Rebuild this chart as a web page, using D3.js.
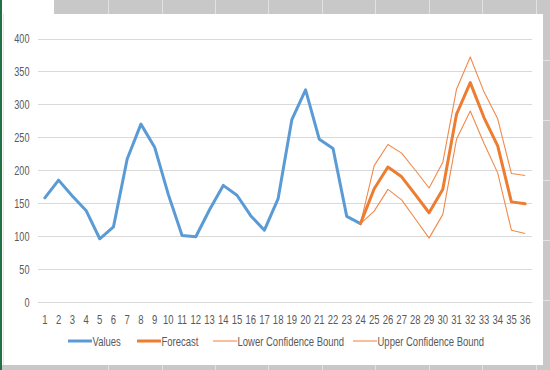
<!DOCTYPE html>
<html><head><meta charset="utf-8">
<script src="https://cdn.jsdelivr.net/npm/d3@7"></script>
<style>html,body{margin:0;padding:0;background:#fff;}svg{display:block;}</style>
</head><body>
<svg id="c" width="550" height="370"></svg>
<script>
const categories = d3.range(1, 37);
const valuesX = d3.range(1, 25);
const values = [158,185,161,139,96,114,217,270,235,163,101,99,140,177,162,131,109,157,277,322,247,233,130,119];
const forecastX = d3.range(24, 37);
const forecast = [119,172,205,190,163,135.5,171,285,333,280,237,152,149];
const lowerBound = [119,138,171,155,126,97,133,247,290,241,196,109,104];
const upperBound = [119,207,239,226,200,173,212,323,372,319,278,195,192];
const yTicks = [0,50,100,150,200,250,300,350,400];
const legendItems = ["Values","Forecast","Lower Confidence Bound","Upper Confidence Bound"];

const svg = d3.select("#c");
const font = "'Liberation Sans',Arial,sans-serif";
const sx = 0.76;

// spreadsheet background
svg.append("rect").attr("x",0).attr("y",0).attr("width",550).attr("height",370).attr("fill","#c8c8c8");
svg.append("rect").attr("x",0).attr("y",0).attr("width",54).attr("height",15).attr("fill","#ffffff");
[108,162,215,268,322,375,429,482,536].forEach(x=>{
  svg.append("line").attr("x1",x+0.5).attr("x2",x+0.5).attr("y1",0).attr("y2",14).attr("stroke","#e2e2e2");
  svg.append("line").attr("x1",x+0.5).attr("x2",x+0.5).attr("y1",365).attr("y2",370).attr("stroke","#e2e2e2");
});
[60,120,180,240,300].forEach(y=>{
  svg.append("line").attr("x1",543).attr("x2",550).attr("y1",y+0.5).attr("y2",y+0.5).attr("stroke","#e2e2e2");
});
svg.append("rect").attr("x",0).attr("y",0).attr("width",2).attr("height",370).attr("fill","#217346");
svg.append("rect").attr("x",2).attr("y",14).attr("width",541).attr("height",351).attr("fill","#ffffff");
svg.append("line").attr("x1",3.5).attr("x2",3.5).attr("y1",14).attr("y2",365).attr("stroke","#e6e6e6");

const x = d3.scaleBand().domain(categories).range([38, 532]);
const y = d3.scaleLinear().domain([0, 400]).range([302, 38.5]);
const cx = d => x(d) + x.bandwidth()/2;

// gridlines
svg.append("g").selectAll("line").data(yTicks).join("line")
  .attr("x1",38).attr("x2",532)
  .attr("y1",d=>Math.round(y(d))+0.5).attr("y2",d=>Math.round(y(d))+0.5)
  .attr("stroke","#d9d9d9").attr("stroke-width",1);

// y axis
const yAxis = svg.append("g").attr("transform","translate(29.5,0)")
  .call(d3.axisLeft(y).tickValues(yTicks).tickSize(0).tickPadding(0));
yAxis.select(".domain").remove();
yAxis.selectAll("text").attr("fill","#595959").attr("dy","0.36em")
  .attr("transform",`scale(${sx},1)`)
  .style("font-family",font).style("font-size","12px");

// x axis
const xAxis = svg.append("g").attr("transform","translate(0,324)")
  .call(d3.axisBottom(x).tickSize(0).tickPadding(0));
xAxis.select(".domain").remove();
xAxis.selectAll("text").attr("fill","#595959").attr("dy","0").attr("y",0)
  .attr("transform",`scale(${sx},1)`)
  .style("font-family",font).style("font-size","12.5px");

const line = d3.line().x(d=>cx(d[0])).y(d=>y(d[1]));
const zip = (a,b)=>a.map((v,i)=>[v,b[i]]);

svg.append("path").datum(zip(forecastX, lowerBound)).attr("d",line)
  .attr("fill","none").attr("stroke","#F08A4B").attr("stroke-width",1.1).attr("stroke-linejoin","round");
svg.append("path").datum(zip(forecastX, upperBound)).attr("d",line)
  .attr("fill","none").attr("stroke","#F08A4B").attr("stroke-width",1.1).attr("stroke-linejoin","round");
svg.append("path").datum(zip(valuesX, values)).attr("d",line)
  .attr("fill","none").attr("stroke","#5B9BD5").attr("stroke-width",3).attr("stroke-linejoin","round").attr("stroke-linecap","round");
svg.append("path").datum(zip(forecastX, forecast)).attr("d",line)
  .attr("fill","none").attr("stroke","#ED7D31").attr("stroke-width",3).attr("stroke-linejoin","round").attr("stroke-linecap","round");

// legend
const legX = [68,137,213,353];
const legStyle = [["#5B9BD5",3],["#ED7D31",3],["#F08A4B",1.1],["#F08A4B",1.1]];
const lg = svg.append("g");
legendItems.forEach((t,i)=>{
  lg.append("line").attr("x1",legX[i]).attr("x2",legX[i]+24).attr("y1",341).attr("y2",341)
    .attr("stroke",legStyle[i][0]).attr("stroke-width",legStyle[i][1]);
  lg.append("g").attr("transform",`translate(${legX[i]+24.5},345.5) scale(${sx},1)`)
    .append("text").attr("x",0).attr("y",0).text(t)
    .attr("fill","#595959").style("font-family",font).style("font-size","12.5px");
});
</script>
</body></html>
